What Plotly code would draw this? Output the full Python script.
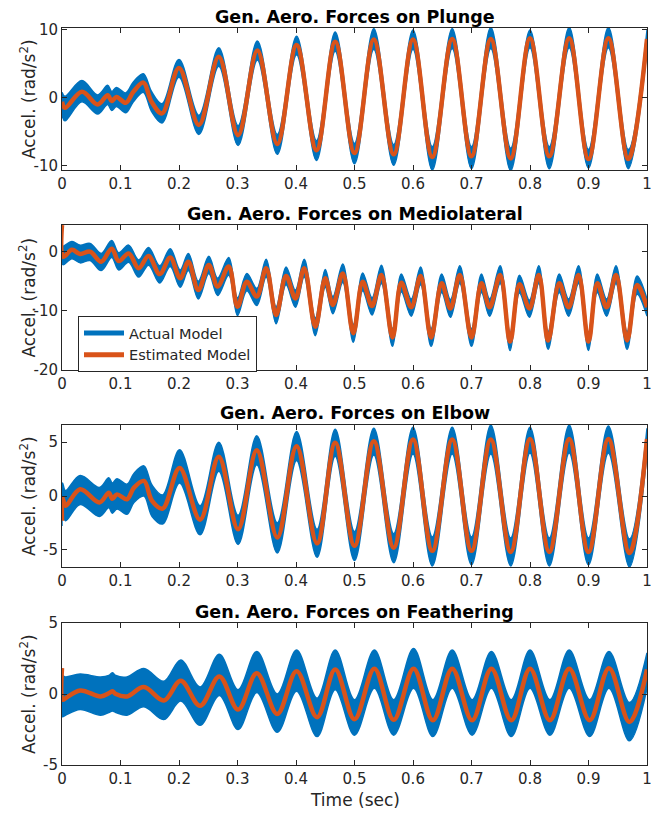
import plotly.graph_objects as go

# ---------------- data ----------------
time_plunge = [0, 0.005, 0.034, 0.061, 0.078, 0.085, 0.093, 0.109, 0.122, 0.139,
               0.153, 0.171, 0.200, 0.234, 0.268, 0.301, 0.334, 0.368, 0.401, 0.435,
               0.467, 0.500, 0.533, 0.567, 0.600, 0.633, 0.667, 0.700, 0.733, 0.767,
               0.800, 0.833, 0.867, 0.900, 0.934, 0.968, 1.000]
est_plunge = [-0.6, -1.5, 0.85, -1.0, 0.35, -0.5, 0.1, -0.75, 0.85, 2.2,
              -0.6, -2.3, 4.35, -4.0, 6.0, -5.5, 6.9, -6.8, 7.7, -7.7,
              8.2, -8.1, 8.5, -8.3, 8.5, -8.7, 8.6, -8.6, 8.6, -8.9,
              8.7, -8.6, 8.7, -9.0, 8.7, -9.0, 8.6]
act_hi_plunge = [0.8, 0.2, 2.5, 0.4, 1.8, 0.9, 1.5, 0.7, 2.3, 3.5,
                 0.9, -0.9, 5.6, -2.6, 7.3, -4.1, 8.3, -5.4, 9.0, -6.3,
                 9.6, -6.7, 10.1, -6.9, 9.9, -7.2, 10.1, -7.2, 10.3, -7.4,
                 9.9, -7.2, 10.3, -7.6, 10.3, -7.6, 9.9]
act_lo_plunge = [-2.5, -3.4, -0.6, -2.4, -1.0, -1.9, -1.3, -2.2, -0.6, 0.8,
                 -2.0, -3.7, 3.0, -5.4, 4.6, -7.0, 5.5, -8.3, 6.3, -9.2,
                 6.8, -9.7, 7.1, -9.9, 7.1, -10.6, 7.2, -10.4, 7.2, -10.7,
                 7.3, -10.4, 7.3, -10.3, 7.3, -10.4, 7.2]

time_medio = [0, 0.002, 0.017, 0.031, 0.048, 0.067, 0.085, 0.097, 0.114, 0.131,
              0.148, 0.167, 0.185, 0.202, 0.216, 0.233, 0.251, 0.266, 0.285, 0.300,
              0.316, 0.333, 0.349, 0.366, 0.383, 0.399, 0.414, 0.433, 0.450, 0.463,
              0.480, 0.498, 0.514, 0.530, 0.546, 0.565, 0.580, 0.597, 0.613, 0.631,
              0.649, 0.664, 0.680, 0.700, 0.717, 0.731, 0.749, 0.766, 0.782, 0.799,
              0.815, 0.831, 0.850, 0.866, 0.883, 0.900, 0.915, 0.931, 0.947, 0.966,
              0.983, 1.000]
est_medio = [4.5, -0.85, 0.3, -0.4, 0.0, -1.7, 0.5, -1.6, -0.3, -2.8,
             -0.75, -3.8, -1.0, -4.5, -1.7, -6.5, -2.25, -5.9, -2.5, -9.3,
             -5.1, -7.6, -2.8, -10.7, -4.1, -7.9, -2.8, -12.7, -4.5, -9.0,
             -3.7, -13.8, -5.1, -9.2, -3.95, -14.5, -5.25, -9.4, -4.1, -14.5,
             -5.35, -9.6, -3.95, -14.5, -5.35, -9.4, -3.95, -15.2, -5.5, -9.6,
             -3.95, -15.0, -5.35, -9.4, -3.95, -15.2, -5.35, -9.4, -3.95, -15.0,
             -5.65, -9.4]
act_hi_medio = [1.0, 0.9, 1.7, 1.1, 1.4, -0.3, 1.9, -0.2, 1.1, -1.4,
                0.7, -2.4, 0.5, -3.1, -0.3, -5.0, -0.8, -4.5, -1.0, -7.8,
                -3.7, -6.2, -1.3, -9.3, -2.6, -6.5, -1.3, -11.2, -3.0, -7.6,
                -2.1, -12.3, -3.6, -7.8, -2.3, -13.0, -3.8, -8.0, -2.6, -13.0,
                -3.8, -8.1, -2.4, -13.0, -3.8, -8.0, -2.4, -13.7, -4.0, -8.2,
                -2.4, -13.5, -3.8, -8.0, -2.4, -13.7, -3.8, -8.0, -2.4, -13.5,
                -4.1, -8.0]
act_lo_medio = [-2.0, -2.2, -1.2, -1.9, -1.5, -3.2, -1.0, -3.1, -1.8, -4.3,
                -2.3, -5.3, -2.5, -6.0, -3.2, -8.0, -3.7, -7.4, -4.0, -10.8,
                -6.6, -9.1, -4.3, -12.2, -5.6, -9.4, -4.3, -14.2, -6.0, -10.5,
                -5.2, -15.3, -6.6, -10.7, -5.4, -16.0, -6.8, -10.9, -5.6, -16.0,
                -6.9, -11.1, -5.4, -16.0, -6.9, -10.9, -5.4, -16.7, -7.0, -11.1,
                -5.4, -16.5, -6.9, -10.9, -5.4, -16.7, -6.9, -10.9, -5.4, -16.5,
                -7.2, -10.9]

time_elbow = [0, 0.001, 0.006, 0.031, 0.064, 0.080, 0.086, 0.094, 0.111, 0.123,
              0.140, 0.154, 0.172, 0.201, 0.236, 0.268, 0.301, 0.333, 0.368, 0.401,
              0.436, 0.467, 0.500, 0.533, 0.567, 0.600, 0.633, 0.667, 0.700, 0.733,
              0.767, 0.800, 0.833, 0.867, 0.900, 0.934, 0.970, 1.000]
est_elbow = [-2.3, -0.2, -0.9, 0.62, -0.6, 0.3, -0.25, 0.15, -0.3, 0.78,
             1.4, -0.46, -1.17, 2.6, -2.2, 3.65, -3.1, 4.26, -3.85, 4.63,
             -4.4, 4.95, -4.63, 5.1, -4.8, 5.25, -5.1, 5.25, -5.1, 5.25,
             -5.2, 5.3, -5.2, 5.3, -5.2, 5.3, -5.3, 5.3]
act_hi_elbow = [0.3, 1.2, 0.5, 1.9, 0.8, 1.7, 1.2, 1.6, 1.1, 2.1,
                2.8, 1.0, 0.1, 4.3, -0.9, 5.0, -1.8, 5.6, -2.5, 6.0,
                -3.1, 6.2, -3.3, 6.3, -3.5, 6.4, -3.8, 6.4, -3.8, 6.6,
                -3.9, 6.4, -3.9, 6.6, -3.9, 6.5, -4.0, 6.3]
act_lo_elbow = [-2.8, -1.6, -2.3, -0.8, -1.9, -1.1, -1.6, -1.2, -1.7, -0.6,
                0.0, -1.9, -2.6, 1.2, -3.6, 2.3, -4.5, 2.9, -5.3, 3.3,
                -5.7, 3.7, -6.0, 3.8, -6.2, 3.9, -6.5, 3.9, -6.4, 3.9,
                -6.5, 4.0, -6.5, 4.0, -6.4, 4.0, -6.6, 4.0]

time_feather = [0, 0.001, 0.006, 0.031, 0.066, 0.080, 0.086, 0.092, 0.111, 0.140,
                0.174, 0.203, 0.236, 0.269, 0.301, 0.333, 0.368, 0.401, 0.436,
                0.467, 0.500, 0.534, 0.567, 0.601, 0.634, 0.667, 0.701, 0.734, 0.768,
                0.800, 0.834, 0.867, 0.902, 0.935, 0.970, 1.000]
est_feather = [1.83, -0.4, -0.3, 0.25, -0.17, 0.05, 0.2, 0.0, -0.17, 0.49,
               -0.46, 0.93, -0.83, 1.24, -1.1, 1.47, -1.4, 1.6, -1.63,
               1.72, -1.78, 1.78, -1.82, 1.78, -1.85, 1.78, -1.85, 1.78, -1.85,
               1.78, -1.85, 1.78, -1.85, 1.82, -1.97, 1.73]
act_hi_feather = [1.3, 1.3, 1.2, 1.4, 1.2, 1.3, 1.5, 1.3, 1.2, 1.8,
                  0.9, 2.4, 0.5, 2.8, 0.3, 3.0, 0.0, 3.1, -0.3,
                  3.1, -0.4, 3.1, -0.4, 3.2, -0.4, 3.1, -0.4, 3.0, -0.4,
                  3.1, -0.4, 3.1, -0.4, 3.0, -0.6, 2.9]
act_lo_feather = [-1.5, -1.6, -1.5, -1.1, -1.5, -1.3, -1.2, -1.3, -1.5, -0.9,
                  -1.8, -0.5, -2.2, -0.1, -2.5, 0.1, -2.7, 0.2, -3.0,
                  0.3, -2.9, 0.4, -2.9, 0.4, -3.0, 0.4, -2.9, 0.4, -3.0,
                  0.4, -2.9, 0.4, -3.0, 0.4, -3.3, 0.4]

titles = ["Gen. Aero. Forces on Plunge", "Gen. Aero. Forces on Mediolateral",
          "Gen. Aero. Forces on Elbow", "Gen. Aero. Forces on Feathering"]
x_tick_vals = [0, 0.1, 0.2, 0.3, 0.4, 0.5, 0.6, 0.7, 0.8, 0.9, 1]
x_tick_text = ["0", "0.1", "0.2", "0.3", "0.4", "0.5", "0.6", "0.7", "0.8", "0.9", "1"]
y_ticks_plunge = [-10, 0, 10]
y_ticks_medio = [-20, -10, 0]
y_ticks_elbow = [-5, 0, 5]
y_ticks_feather = [-5, 0, 5]
legend_names = ["Actual Model", "Estimated Model"]

# ---------------- styling ----------------
BLUE = "#0072BD"
ORANGE = "#D95319"
AX = "#262626"
FONT = "DejaVu Sans"
OFF = 8                      # page body margin in the browser
W, H = 659 - OFF, 814 - OFF  # figure size so that it fills the window


def px_x(p):
    return (p - OFF) / W


def px_y(p):
    return 1 - (p - OFF) / H


X0, X1 = 62, 647
panel_px = [(28, 170), (225, 370), (425, 567), (623, 765)]
y_ranges = [[-10.6, 10.2], [-20, 4.5], [-6.6, 6.6], [-5, 5]]

series = [
    (time_plunge, est_plunge, act_hi_plunge, act_lo_plunge, y_ticks_plunge),
    (time_medio, est_medio, act_hi_medio, act_lo_medio, y_ticks_medio),
    (time_elbow, est_elbow, act_hi_elbow, act_lo_elbow, y_ticks_elbow),
    (time_feather, est_feather, act_hi_feather, act_lo_feather, y_ticks_feather),
]
for s in series:
    assert len(s[0]) == len(s[1]) == len(s[2]) == len(s[3]), [len(v) for v in s[:4]]

fig = go.Figure()
layout = dict(
    width=W, height=H, autosize=False,
    margin=dict(l=0, r=0, t=0, b=0, pad=0, autoexpand=False),
    paper_bgcolor="white", plot_bgcolor="white",
    font=dict(family=FONT, color=AX),
    annotations=[],
    legend=dict(x=px_x(78), y=px_y(316), xanchor="left", yanchor="top",
                bgcolor="white", bordercolor=AX, borderwidth=1,
                font=dict(family=FONT, size=14.5, color=AX),
                traceorder="normal", itemwidth=40, tracegroupgap=0),
)

for i, (t, est, hi, lo, yt) in enumerate(series, start=1):
    xa = "x" if i == 1 else f"x{i}"
    ya = "y" if i == 1 else f"y{i}"
    fig.add_trace(go.Scatter(x=t, y=lo, mode="lines", xaxis=xa, yaxis=ya,
                             line=dict(color=BLUE, width=1.5, shape="spline"),
                             showlegend=False, hoverinfo="skip"))
    fig.add_trace(go.Scatter(x=t, y=hi, mode="lines", xaxis=xa, yaxis=ya,
                             line=dict(color=BLUE, width=1.5, shape="spline"),
                             fill="tonexty", fillcolor=BLUE,
                             showlegend=False, hoverinfo="skip"))
    fig.add_trace(go.Scatter(x=t, y=est, mode="lines", xaxis=xa, yaxis=ya,
                             line=dict(color=ORANGE, width=4.5, shape="spline"),
                             showlegend=False))
    top, bot = panel_px[i - 1]
    layout[f"xaxis{i if i > 1 else ''}"] = dict(
        domain=[px_x(X0), px_x(X1)], range=[0, 1], anchor=ya, automargin=False,
        tickvals=x_tick_vals, ticktext=x_tick_text,
        ticks="inside", ticklen=5, tickcolor=AX, tickwidth=1,
        showline=True, linecolor=AX, linewidth=1, mirror="allticks",
        showgrid=False, zeroline=False,
        tickfont=dict(family=FONT, size=15, color=AX))
    layout[f"yaxis{i if i > 1 else ''}"] = dict(
        domain=[px_y(bot), px_y(top)], range=y_ranges[i - 1], anchor=xa, automargin=False,
        tickvals=yt, ticktext=[str(v) for v in yt],
        ticks="inside", ticklen=5, tickcolor=AX, tickwidth=1,
        showline=True, linecolor=AX, linewidth=1, mirror="allticks",
        showgrid=False, zeroline=False,
        tickfont=dict(family=FONT, size=15, color=AX))
    layout["annotations"].append(dict(
        text=f"<b>{titles[i - 1]}</b>", xref="paper", yref="paper",
        x=px_x((X0 + X1) / 2), y=px_y(top - 11.5), xanchor="center", yanchor="middle",
        showarrow=False, font=dict(family=FONT, size=17.5, color="black")))
    layout["annotations"].append(dict(
        text="Accel. (rad/s<sup>2</sup>)", xref="paper", yref="paper",
        x=px_x(28), y=px_y((top + bot) / 2), xanchor="center", yanchor="middle",
        textangle=-90, showarrow=False, font=dict(family=FONT, size=17, color=AX)))

layout["annotations"].append(dict(
    text="Time (sec)", xref="paper", yref="paper",
    x=px_x((X0 + X1) / 2), y=px_y(800), xanchor="center", yanchor="middle",
    showarrow=False, font=dict(family=FONT, size=17, color=AX)))

# legend entries
fig.add_trace(go.Scatter(x=[None], y=[None], mode="lines", xaxis="x2", yaxis="y2",
                         line=dict(color=BLUE, width=5), name=legend_names[0]))
fig.add_trace(go.Scatter(x=[None], y=[None], mode="lines", xaxis="x2", yaxis="y2",
                         line=dict(color=ORANGE, width=5), name=legend_names[1]))

fig.update_layout(**layout)
fig.write_html("out.html")
